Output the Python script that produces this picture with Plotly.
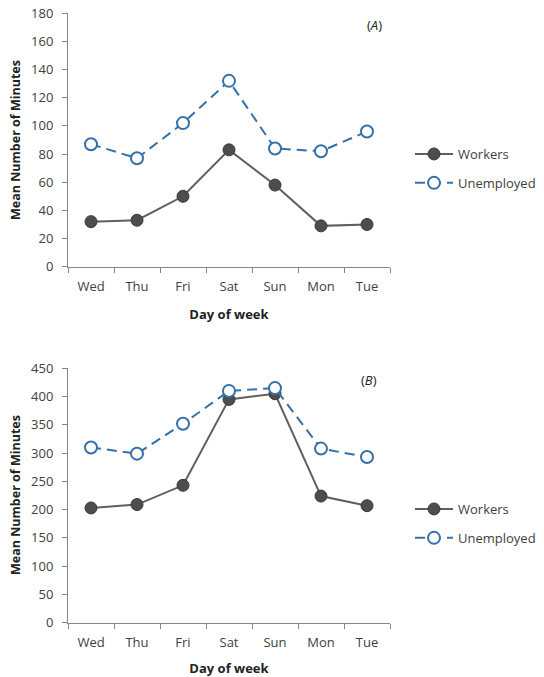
import plotly.graph_objects as go

days = ["Wed", "Thu", "Fri", "Sat", "Sun", "Mon", "Tue"]
workers_a = [32, 33, 50, 83, 58, 29, 30]
unemployed_a = [87, 77, 102, 132, 84, 82, 96]
workers_b = [203, 209, 243, 395, 405, 224, 207]
unemployed_b = [310, 299, 352, 410, 415, 308, 293]
yticks_a = [0, 20, 40, 60, 80, 100, 120, 140, 160, 180]
yticks_b = [0, 50, 100, 150, 200, 250, 300, 350, 400, 450]

W, H = 544, 677
FONT = "Open Sans, Liberation Sans, Arial"
TXT = "#404040"
AX = "#868686"
BLUE = "#3470AB"
GRAY_LINE = "#5f5f5f"
GRAY_MARK = "#4d4d4d"

fig = go.Figure()

def add_panel(wk, un, xa, ya, legend):
    fig.add_trace(go.Scatter(
        x=days, y=wk, name="Workers", mode="lines+markers",
        xaxis=xa, yaxis=ya, legend=legend, legendgroup=legend + "w",
        line=dict(color=GRAY_LINE, width=2),
        marker=dict(size=12, color=GRAY_MARK, line=dict(color="#3a3a3a", width=1)),
    ))
    fig.add_trace(go.Scatter(
        x=days, y=un, name="Unemployed", mode="lines+markers",
        xaxis=xa, yaxis=ya, legend=legend, legendgroup=legend + "u",
        line=dict(color=BLUE, width=2, dash="10px,6px"),
        marker=dict(size=12, color="white", line=dict(color=BLUE, width=2)),
    ))

add_panel(workers_a, unemployed_a, "x", "y", "legend")
add_panel(workers_b, unemployed_b, "x2", "y2", "legend2")

xdom = [68 / W, 390 / W]
ydom_a = [1 - 266.7 / H, 1 - 13.3 / H]
ydom_b = [1 - 622.7 / H, 1 - 368.3 / H]

xcommon = dict(
    type="category", range=[-0.5, 6.5], domain=xdom, automargin=False,
    showline=True, linecolor=AX, linewidth=1,
    ticks="outside", tickson="boundaries", ticklen=5, tickcolor=AX,
    ticklabelstandoff=8,
    showgrid=False, zeroline=False,
    tickfont=dict(family=FONT, size=13, color=TXT),
    title=dict(text="<b>Day of week</b>", font=dict(family=FONT, size=13, color="#222")),
)
ycommon = dict(
    showline=True, linecolor=AX, linewidth=1, automargin=False,
    ticks="outside", ticklen=5, tickcolor=AX,
    ticklabelstandoff=6,
    showgrid=False, zeroline=False,
    tickfont=dict(family=FONT, size=13, color=TXT),
)

leg = dict(xanchor="left", yanchor="top",
           font=dict(family=FONT, size=13, color=TXT), tracegroupgap=9,
           bgcolor="rgba(0,0,0,0)", itemwidth=38)

ytitle_font = dict(family=FONT, size=12.5, color="#222")

fig.update_layout(
    width=W, height=H,
    margin=dict(l=0, r=0, t=0, b=0, autoexpand=False),
    paper_bgcolor="white", plot_bgcolor="white",
    xaxis=dict(**xcommon, anchor="y"),
    yaxis=dict(**ycommon, domain=ydom_a, range=[0, 180], tickvals=yticks_a, anchor="x"),
    xaxis2=dict(**xcommon, anchor="y2"),
    yaxis2=dict(**ycommon, domain=ydom_b, range=[0, 450], tickvals=yticks_b, anchor="x2"),
    legend=dict(x=410 / W, y=1 - 139 / H, **leg),
    legend2=dict(x=410 / W, y=1 - 494 / H, **leg),
    showlegend=True,
    annotations=[
        dict(text="(<i>A</i>)", x=374 / W, y=1 - 25 / H, xref="paper", yref="paper",
             xanchor="center", yanchor="middle",
             showarrow=False, font=dict(family=FONT, size=13, color="#222")),
        dict(text="(<i>B</i>)", x=369 / W, y=1 - 380 / H, xref="paper", yref="paper",
             xanchor="center", yanchor="middle",
             showarrow=False, font=dict(family=FONT, size=13, color="#222")),
        dict(text="<b>Mean Number of Minutes</b>", textangle=-90,
             x=15 / W, y=1 - 140 / H, xref="paper", yref="paper",
             xanchor="center", yanchor="middle", showarrow=False, font=ytitle_font),
        dict(text="<b>Mean Number of Minutes</b>", textangle=-90,
             x=15 / W, y=1 - 495 / H, xref="paper", yref="paper",
             xanchor="center", yanchor="middle", showarrow=False, font=ytitle_font),
    ],
)

fig.write_html("out.html", config={"displayModeBar": False},
               post_script="document.body.style.margin='0';document.body.style.overflow='hidden';")
